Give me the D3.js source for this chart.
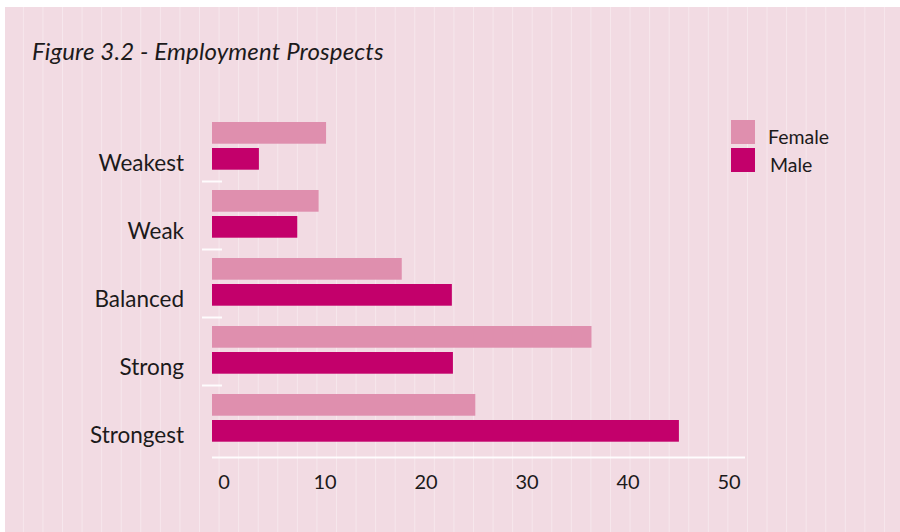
<!DOCTYPE html>
<html>
<head>
<meta charset="utf-8">
<script src="https://cdn.jsdelivr.net/npm/d3@7/dist/d3.min.js"></script>
<style>
  html, body { margin: 0; padding: 0; background: #ffffff; }
  svg { display: block; }
  text { font-family: Lato, "Open Sans", sans-serif; fill: #1c1a1b; }
</style>
</head>
<body>
<svg id="chart" width="900" height="532"></svg>
<script>
// Employment prospects by gender (share of respondents, %)
const categories = ["Weakest", "Weak", "Balanced", "Strong", "Strongest"];
const seriesNames = ["Female", "Male"];
const femaleValues = [10.7, 10.0, 17.8, 35.6, 24.7];
const maleValues = [4.4, 8.0, 22.5, 22.6, 43.8];
const tickValues = [0, 10, 20, 30, 40, 50];
const titleText = "Figure 3.2 - Employment Prospects";

const colors = { Female: "#df8fae", Male: "#c3006b" };
const bg = "#f2dbe3";

const svg = d3.select("#chart");

// panel background with faint vertical pinstripes
svg.append("rect").attr("x", 5).attr("y", 7).attr("width", 895).attr("height", 525).attr("fill", bg);
svg.append("g")
  .selectAll("line")
  .data(d3.range(1, 46))
  .join("line")
  .attr("x1", k => 3.8 + 19.57 * k)
  .attr("x2", k => 3.8 + 19.57 * k)
  .attr("y1", 7).attr("y2", 532)
  .attr("stroke", "#ffffff")
  .attr("stroke-opacity", 0.35)
  .attr("stroke-width", 1);

// title
svg.append("text")
  .attr("x", 32).attr("y", 60)
  .attr("font-size", 24)
  .attr("font-style", "italic")
  .attr("letter-spacing", 0.15)
  .text(titleText);

// scales
const x = d3.scaleLinear().domain([0, 50]).range([212, 745]);
const xLabels = d3.scaleLinear().domain([0, 50]).range([223.5, 728.5]);
const y = d3.scaleBand().domain(categories).range([114, 454]).paddingInner(0).paddingOuter(0);
const ySeries = d3.scaleBand().domain(seriesNames).range([8, 55.7]).paddingInner(4.3 / 26);

const rows = categories.map((c, i) => ({ cat: c, Female: femaleValues[i], Male: maleValues[i] }));

// bars
const groups = svg.append("g").selectAll("g")
  .data(rows)
  .join("g")
  .attr("transform", d => `translate(0,${y(d.cat)})`);

groups.selectAll("rect")
  .data(d => seriesNames.map(s => ({ s, v: d[s] })))
  .join("rect")
  .attr("x", x(0))
  .attr("y", d => ySeries(d.s))
  .attr("width", d => x(d.v) - x(0))
  .attr("height", ySeries.bandwidth())
  .attr("fill", d => colors[d.s]);

// category labels
svg.append("g").selectAll("text")
  .data(categories)
  .join("text")
  .attr("x", 184)
  .attr("y", d => y(d) + 57)
  .attr("text-anchor", "end")
  .attr("font-size", 22.5)
  .text(d => d);

// separators between category groups
svg.append("g").selectAll("line")
  .data(categories.slice(1))
  .join("line")
  .attr("x1", 202).attr("x2", 222)
  .attr("y1", d => y(d) - 0.5).attr("y2", d => y(d) - 0.5)
  .attr("stroke", "#ffffff").attr("stroke-opacity", 0.9).attr("stroke-width", 2);

// x axis baseline
svg.append("line")
  .attr("x1", x(0)).attr("x2", x(50))
  .attr("y1", 457.5).attr("y2", 457.5)
  .attr("stroke", "#ffffff").attr("stroke-opacity", 0.9).attr("stroke-width", 2);

// x axis labels
const xAxis = d3.axisBottom(xLabels).tickValues(tickValues).tickSize(0).tickPadding(0).tickFormat(d3.format("d"));
const gx = svg.append("g").attr("transform", "translate(0,489)").call(xAxis);
gx.select(".domain").remove();
gx.selectAll("text")
  .attr("dy", 0).attr("y", 0)
  .attr("font-size", 20)
  .style("font-family", "Lato, 'Open Sans', sans-serif")
  .attr("fill", "#1c1a1b");

// legend
const legend = svg.append("g");
const legendRows = [
  { s: "Female", y: 120, tx: 768, ty: 144 },
  { s: "Male", y: 148, tx: 770, ty: 172 }
];
legend.selectAll("rect")
  .data(legendRows)
  .join("rect")
  .attr("x", 731).attr("y", d => d.y)
  .attr("width", 24).attr("height", 24)
  .attr("fill", d => colors[d.s]);
legend.selectAll("text")
  .data(legendRows)
  .join("text")
  .attr("x", d => d.tx).attr("y", d => d.ty)
  .attr("font-size", 19.5)
  .text(d => d.s);
</script>
</body>
</html>
